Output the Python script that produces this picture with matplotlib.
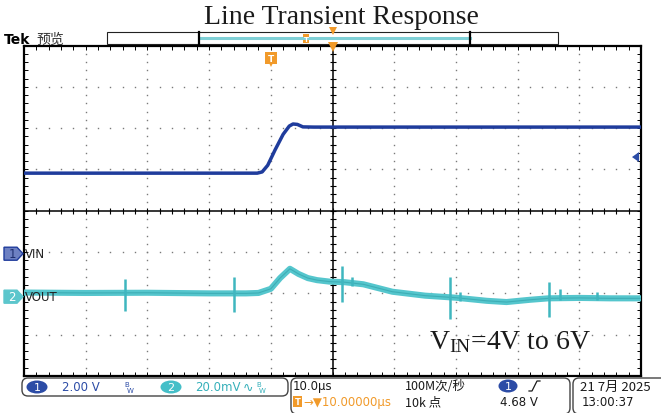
import matplotlib
matplotlib.use('Agg')
import matplotlib.pyplot as plt
import numpy as np
from matplotlib.patches import FancyBboxPatch, Polygon, Rectangle, Ellipse
from matplotlib import transforms

plt.rcParams['mathtext.fontset'] = 'custom'
plt.rcParams['mathtext.rm'] = 'Liberation Serif'
plt.rcParams['mathtext.it'] = 'Liberation Serif:italic'

# ---------------- scope settings ----------------
time_per_div = 10.0      # us/div
h_delay = 10.0           # us (trigger at t=0, screen centre at 10 us)
ch1_scale = 2.00         # V/div
ch2_scale = 20.0         # mV/div
ch1_pos = -1.04          # div
ch2_pos = -2.08          # div
trig_level = 4.68        # V

# ---------------- CH1 : VIN (V) ----------------
vin_t = [-40.0, -2.2, -1.4, -0.5, 0.7, 2.0, 3.0, 3.6, 4.3, 5.2, 7.0, 60.0]
vin_v = [3.90, 3.90, 3.96, 4.28, 5.03, 5.78, 6.18, 6.28, 6.26, 6.14, 6.13, 6.13]

# ---------------- CH2 : VOUT (mV, band centre) ----------------
vout_t = [-40.0, -30.0, -20.0, -10.0, -4.0, -2.0, 0.0, 1.5, 3.1, 4.5, 6.0,
          7.5, 9.5, 12.0, 15.0, 19.7, 25.0, 30.0, 35.0, 38.2, 42.0, 45.0,
          50.0, 55.0, 60.0]
vout_mv = [2.0, 1.8, 1.9, 1.6, 1.6, 1.8, 3.8, 9.0, 13.5, 11.0, 9.0,
           8.0, 7.3, 7.0, 6.0, 2.4, 0.5, -0.5, -2.0, -2.6, -1.5, -0.8,
           -0.6, -0.8, -0.8]

# switching spikes on VOUT (time us, max mV, min mV)
spike_t = [-23.6, -6.0, 11.5, 13.1, 29.0, 30.6, 45.1, 46.8, 52.8]
spike_max = [8.7, 9.7, 15.0, 9.7, 9.7, 2.4, 7.3, 3.9, 2.4]
spike_min = [-6.8, -7.5, -2.4, 5.0, -10.6, -2.0, -9.7, -1.5, -1.5]

# ---------------- figure ----------------
W, H = 661, 414
fig = plt.figure(figsize=(W / 100, H / 100), dpi=100)
L, R, T, B = 24, 641, 46.5, 377
ax = fig.add_axes([L / W, (H - B) / H, (R - L) / W, (B - T) / H])
xmin = h_delay - 5 * time_per_div
xmax = h_delay + 5 * time_per_div
ax.set_xlim(xmin, xmax)
ax.set_ylim(-4, 4)

# graticule dots
dot_y = np.arange(-4, 4.001, 0.2)
dot_x = np.arange(xmin, xmax + 0.001, time_per_div / 5)
for k in range(1, 10):
    xv = xmin + k * time_per_div
    if abs(xv - h_delay) < 1e-6:
        continue
    ax.plot([xv] * len(dot_y), dot_y, ls='none', marker='s', ms=1.0,
            mew=0, color='#7a7a7a', zorder=1)
for k in range(-3, 4):
    if k == 0:
        continue
    ax.plot(dot_x, [k] * len(dot_x), ls='none', marker='s', ms=1.0,
            mew=0, color='#7a7a7a', zorder=1)

# centre crosshair with ticks
ax.axvline(h_delay, color='black', lw=1.1, zorder=2)
ax.axhline(0, color='black', lw=1.1, zorder=2)
ax.plot([h_delay] * len(dot_y), dot_y, ls='none', marker='_', ms=5, mew=0.8,
        color='black', zorder=2)
ax.plot(dot_x, [0] * len(dot_x), ls='none', marker='|', ms=5, mew=0.8,
        color='black', zorder=2)

ax.set_xticks(dot_x)
ax.set_yticks(dot_y)
ax.tick_params(direction='in', length=3, width=0.7, top=True, right=True,
               labelbottom=False, labelleft=False)
for s in ax.spines.values():
    s.set_linewidth(1.6)

# traces
vin_div = np.array(vin_v) / ch1_scale + ch1_pos
ax.plot(vin_t, vin_div, color='#1f3c9c', lw=2.5, zorder=5, solid_capstyle='butt')

vout_div = np.array(vout_mv) / ch2_scale + ch2_pos
ax.plot(vout_t, vout_div, color='#55c6cd', lw=4.4, zorder=4, solid_capstyle='butt')
ax.plot(vout_t, vout_div, color='#2e9ea6', lw=0.8, alpha=0.6, zorder=4)
ax.vlines(spike_t, np.array(spike_min) / ch2_scale + ch2_pos,
          np.array(spike_max) / ch2_scale + ch2_pos, color='#3fb6bf', lw=1.8, zorder=4)

# ---------------- overlay (pixel coords) ----------------
ov = fig.add_axes([0, 0, 1, 1], zorder=10)
ov.set_xlim(0, W)
ov.set_ylim(H, 0)
ov.axis('off')
ov.patch.set_alpha(0)

orange = '#f19a2a'
blue = '#2c4ca6'
cyan = '#45bfc8'

ov.text(341, 18, 'Line Transient Response', ha='center', va='center',
        fontsize=20, family='Liberation Serif', color='#1a1a1a')
ov.text(4, 40, 'Tek', ha='left', va='center', fontsize=10, fontweight='bold',
        family='DejaVu Sans')
ov.text(36, 40, '预览', ha='left', va='center', fontsize=10,
        family=['Noto Sans CJK SC', 'DejaVu Sans'], color='#333333')

# record bar
ov.add_patch(Rectangle((107, 33), 451, 12, fill=False, ec='#222222', lw=0.8))
ov.plot([199, 470], [38.5, 38.5], color='#7fd0d6', lw=2.2)
ov.plot([199, 199], [33, 45], color='black', lw=1.6)
ov.plot([470, 470], [33, 45], color='black', lw=1.6)
ov.add_patch(Rectangle((303, 35), 6, 9, fc=orange, ec='none'))
ov.text(306, 39.5, 'T', color='white', fontsize=5, ha='center', va='center',
        fontweight='bold')
ov.plot([333], [32], marker='v', ms=6, color=orange, mew=0)

# trigger position marker & centre marker
bx = transforms.blended_transform_factory(ax.transData, ov.transData)
ax_tr = transforms.blended_transform_factory(ov.transData, ax.transData)
ov.plot([0], [59], marker='s', ms=8.5, color=orange, mew=0, transform=bx)
ov.plot([0], [64.5], marker='v', ms=4, color=orange, mew=0, transform=bx)
ov.text(0, 59, 'T', color='white', fontsize=6.5, ha='center', va='center',
        fontweight='bold', transform=bx)
ov.plot([h_delay], [47.5], marker='v', ms=7, color=orange, mew=0, transform=bx)

# channel ground markers
hh = 6.5 / 41.3
for pos, fc, ec, lab, tc, name in [(ch1_pos, '#6d80c2', '#1f3c9c', '1', '#1f2f70', 'VIN'),
                                   (ch2_pos, '#5cc6cc', '#5cc6cc', '2', 'white', 'VOUT')]:
    poly = Polygon([(4, pos + hh), (17, pos + hh), (23, pos), (17, pos - hh), (4, pos - hh)],
                   closed=True, fc=fc, ec=ec, lw=1.0, transform=ax_tr, clip_on=False)
    ov.add_patch(poly)
    ov.text(12, pos, lab, color=tc, fontsize=8.5, ha='center', va='center',
            transform=ax_tr)
    ov.text(25, pos, name, color='#222222', fontsize=8.5, ha='left', va='center',
            transform=ax_tr, family='DejaVu Sans')

# trigger level arrow
tl = trig_level / ch1_scale + ch1_pos
ov.add_patch(Polygon([(632, tl), (639, tl + 5 / 41.3), (639, tl - 5 / 41.3)],
                     closed=True, fc='#2c4ca6', ec='none', transform=ax_tr))

# annotation
ov.text(510, 342, r'V$_{\mathrm{IN}}$=4V to 6V', ha='center', va='center',
        fontsize=20, family='Liberation Serif', color='#1a1a1a')

# ---------------- status bar ----------------
for (x0, y0, w, h) in [(22, 379, 266, 18), (291, 379, 279, 36), (573, 379, 100, 36)]:
    ov.add_patch(FancyBboxPatch((x0, y0), w, h, boxstyle='round,pad=0,rounding_size=6',
                                fc='white', ec='#444444', lw=1.0))

sf = dict(fontsize=8.5, family=['DejaVu Sans'], va='center', ha='left')
cf = dict(fontsize=9, family=['Noto Sans CJK SC', 'DejaVu Sans'], va='center', ha='left')

ov.add_patch(Ellipse((37, 388), 21, 13, fc=blue, ec='none'))
ov.text(37, 388, '1', color='white', fontsize=8, ha='center', va='center')
ov.text(62, 388, '2.00 V', color=blue, **sf)
ov.text(124, 385.5, 'B', color=blue, fontsize=5, ha='left', va='center')
ov.text(127, 391, 'W', color=blue, fontsize=5, ha='left', va='center')
ov.add_patch(Ellipse((171, 388), 21, 13, fc=cyan, ec='none'))
ov.text(171, 388, '2', color='white', fontsize=8, ha='center', va='center')
ov.text(195, 388, '20.0mV', color='#36b0ba', **sf)
ov.text(243, 388, '∿', color='#36b0ba', fontsize=9, ha='left', va='center',
        family='DejaVu Sans')
ov.text(256, 385.5, 'B', color='#36b0ba', fontsize=5, ha='left', va='center')
ov.text(259, 391, 'W', color='#36b0ba', fontsize=5, ha='left', va='center')

ov.text(293, 387, '10.0µs', color='#1a1a1a', **sf)
ov.text(405, 387, '100M次/秒', color='#1a1a1a', **cf)
ov.add_patch(Ellipse((508, 387), 19, 13, fc=blue, ec='none'))
ov.text(508, 387, '1', color='white', fontsize=8, ha='center', va='center')
ov.plot([529, 532, 537, 540], [392, 392, 382, 382], color='#1a1a1a', lw=0.9)

ov.add_patch(Rectangle((293, 397), 9, 11, fc=orange, ec='none'))
ov.text(297.5, 402.5, 'T', color='white', fontsize=6, ha='center', va='center',
        fontweight='bold')
ov.text(303, 403, '→▼10.00000µs', color=orange, **sf)
ov.text(405, 403, '10k 点', color='#1a1a1a', **cf)
ov.text(500, 403, '4.68 V', color='#1a1a1a', **sf)

ov.text(580, 387, '21 7月 2025', color='#1a1a1a', fontsize=9.5,
        family=['Noto Sans CJK SC', 'DejaVu Sans'], va='center', ha='left')
ov.text(582, 403, '13:00:37', color='#1a1a1a', **sf)

fig.savefig('out.png', dpi=100)
